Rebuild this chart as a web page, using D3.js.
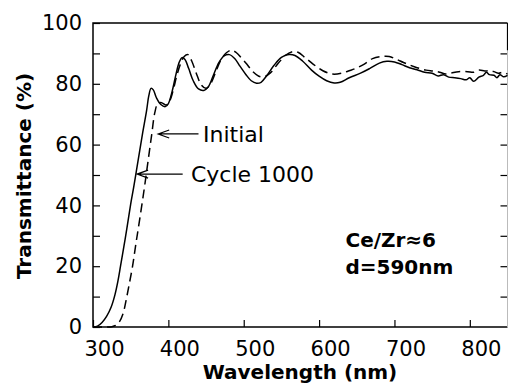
<!DOCTYPE html>
<html>
<head>
<meta charset="utf-8">
<script src="https://cdn.jsdelivr.net/npm/d3@7"></script>
<style>
  html, body { margin: 0; padding: 0; background: #fff; }
  svg { display: block; font-family: "DejaVu Sans", sans-serif; }
</style>
</head>
<body>
<svg width="508" height="385"></svg>
<script>
// Cycle 1000 (solid)
const cycleWl = [300, 306, 312, 318, 324, 329, 333, 336.5, 341, 345, 350, 354, 358, 362, 366, 371, 374, 377, 380, 384, 390, 396, 400, 405, 410, 414, 418, 422, 427, 433, 440, 447, 453, 460, 467, 474, 481, 488, 495, 503, 510, 517, 523, 530, 540, 550, 560, 568, 578, 590, 600, 610, 620, 628, 640, 655, 667, 680, 690, 700, 710, 720, 730, 740, 750, 758, 765, 772, 780, 788, 795, 800, 805, 812, 818, 822, 826, 832, 836, 840, 845, 850];
const cycleT = [0, 0.3, 1.5, 3.5, 6.5, 10.5, 15, 20, 26.5, 32.5, 40.4, 46, 52, 58, 64, 71, 76, 78.5, 78, 75.5, 73.2, 72.5, 73.5, 77.5, 83, 86.8, 88.6, 88, 85, 81, 78.3, 77.8, 79, 83, 87, 89.2, 89.6, 88.3, 85.8, 83, 81, 80.2, 80.5, 82.5, 86, 88.7, 89.6, 89.3, 87.5, 84.5, 82.5, 81, 80.3, 80.5, 82, 83.5, 85, 86.8, 87.4, 87.2, 86.3, 85.3, 84.6, 83.8, 83.5, 82.6, 83, 82.2, 82, 81.7, 81.3, 82, 80.8, 82.2, 82.8, 83.8, 83, 82.8, 82, 83, 82.3, 82.8];

// Initial (dashed)
const initialWl = [300, 318, 325, 330, 335, 340, 344, 348, 352.5, 357, 362, 368, 373, 378, 382, 386, 391, 397, 402, 407, 411, 416, 421, 426, 431, 437, 444, 450, 456, 463, 470, 477, 484, 490, 497, 504, 512, 520, 527, 535, 545, 555, 565, 572, 582, 592, 605, 618, 630, 640, 650, 660, 671, 683, 693, 703, 712, 720, 730, 742, 752, 760, 768, 775, 785, 797, 805, 812, 820, 826, 832, 838, 844, 850];
const initialT = [0, 0, 0.1, 0.5, 1.7, 4.5, 8.9, 14, 20, 27.5, 35.5, 45.5, 54.5, 63.5, 70.5, 73.5, 73.8, 73, 74.5, 78.5, 82.5, 86.5, 89, 89.6, 87.5, 83.5, 79.5, 78.5, 80, 84, 88, 90.2, 91.1, 90.3, 88.5, 86.5, 84, 82.5, 82.3, 83.5, 86.5, 89.3, 90.6, 90.4, 88.5, 86.5, 84.3, 83.2, 83.5, 84.3, 85.2, 86.5, 88.3, 89, 89, 88, 87, 86.2, 85.3, 84.5, 84.2, 83.8, 83.2, 83.5, 84, 84, 83.8, 84.5, 84.2, 84.3, 84, 83.5, 83.8, 83.2];

const xTicks = [300, 400, 500, 600, 700, 800];
const yTicks = [0, 10, 20, 30, 40, 50, 60, 70, 80, 90, 100];

const margin = {top: 23, right: 0.5, bottom: 58, left: 93};
const width = 508, height = 385;

const svg = d3.select("svg");

const x = d3.scaleLinear()
  .domain([300, 850])
  .range([margin.left, width - margin.right]);

const y = d3.scaleLinear()
  .domain([0, 100])
  .range([height - margin.bottom, margin.top]);

// left axis
svg.append("g")
  .attr("transform", `translate(${margin.left},0)`)
  .call(d3.axisLeft(y).tickValues(yTicks).tickSize(-7).tickPadding(11)
    .tickFormat(d => d % 20 === 0 ? d : ""))
  .call(g => g.select(".domain").remove())
  .call(g => g.selectAll(".tick line").attr("stroke", "#000").attr("stroke-width", 1.2))
  .call(g => g.selectAll("text")
    .attr("font-size", 21)
    .attr("font-family", "DejaVu Sans, sans-serif")
    .attr("fill", "#000"));

// right ticks
svg.append("g")
  .attr("transform", `translate(${width - margin.right},0)`)
  .call(d3.axisRight(y).tickValues(yTicks.filter(d => d > 0 && d < 100)).tickSize(-7).tickFormat(""))
  .call(g => g.select(".domain").remove())
  .call(g => g.selectAll(".tick line").attr("stroke", "#000").attr("stroke-width", 1.2));

// bottom axis
svg.append("g")
  .attr("transform", `translate(0,${height - margin.bottom})`)
  .call(d3.axisBottom(x).tickValues(xTicks).tickSize(-7).tickPadding(14))
  .call(g => g.select(".domain").remove())
  .call(g => g.selectAll(".tick line").attr("stroke", "#000").attr("stroke-width", 1.2))
  .call(g => g.selectAll("text")
    .attr("dx", 11)
    .attr("font-size", 21)
    .attr("font-family", "DejaVu Sans, sans-serif")
    .attr("fill", "#000"));

// frame
svg.append("path")
  .attr("fill", "none")
  .attr("stroke", "#000")
  .attr("stroke-width", 1.5)
  .attr("d", `M${x(850)},${y(100)}H${x(300)}V${y(0)}H${x(850)}`);

svg.append("line")
  .attr("x1", x(850)).attr("x2", x(850))
  .attr("y1", y(100)).attr("y2", y(0))
  .attr("stroke", "#bbb")
  .attr("stroke-width", 1);

svg.append("line")
  .attr("x1", x(850)).attr("x2", x(850))
  .attr("y1", y(100)).attr("y2", y(91))
  .attr("stroke", "#000")
  .attr("stroke-width", 1.2);

// curves
const line = d3.line()
  .x(d => x(d[0]))
  .y(d => y(d[1]))
  .curve(d3.curveCatmullRom);

svg.append("path")
  .datum(cycleWl.map((w, i) => [w, cycleT[i]]))
  .attr("fill", "none")
  .attr("stroke", "#000")
  .attr("stroke-width", 1.5)
  .attr("d", line);

svg.append("path")
  .datum(initialWl.map((w, i) => [w, initialT[i]]))
  .attr("fill", "none")
  .attr("stroke", "#000")
  .attr("stroke-width", 1.5)
  .attr("stroke-dasharray", "9,5")
  .attr("d", line);

// arrows with labels
function arrow(tipX, tipY, endX) {
  svg.append("path")
    .attr("fill", "none")
    .attr("stroke", "#000")
    .attr("stroke-width", 1.2)
    .attr("d", `M${endX},${tipY}H${tipX}M${tipX + 11},${tipY - 4}L${tipX},${tipY}L${tipX + 11},${tipY + 4}`);
}

arrow(x(386.5), y(63.5), x(440));
svg.append("text")
  .attr("x", x(446))
  .attr("y", y(63.5))
  .attr("dy", "0.36em")
  .attr("font-size", 22)
  .text("Initial");

arrow(x(358.5), y(50.3), x(419));
svg.append("text")
  .attr("x", x(430))
  .attr("y", y(50.3))
  .attr("dy", "0.36em")
  .attr("font-size", 22)
  .text("Cycle 1000");

// sample info
svg.append("text")
  .attr("x", x(635))
  .attr("y", y(26.4))
  .attr("font-size", 20)
  .attr("font-weight", "bold")
  .text("Ce/Zr≈6");

svg.append("text")
  .attr("x", x(635))
  .attr("y", y(17.3))
  .attr("font-size", 20)
  .attr("font-weight", "bold")
  .text("d=590nm");

// axis titles
svg.append("text")
  .attr("x", 300)
  .attr("y", 379)
  .attr("text-anchor", "middle")
  .attr("font-size", 20)
  .attr("font-weight", "bold")
  .text("Wavelength (nm)");

svg.append("text")
  .attr("transform", "rotate(-90)")
  .attr("x", -176)
  .attr("y", 31)
  .attr("text-anchor", "middle")
  .attr("font-size", 20)
  .attr("font-weight", "bold")
  .text("Transmittance (%)");
</script>
</body>
</html>
